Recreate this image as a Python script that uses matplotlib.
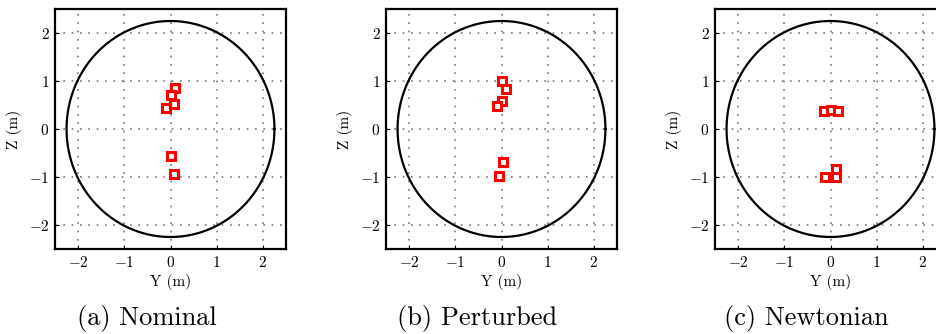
#!/usr/bin/env python3
# formation_positions.py
import numpy as np
import matplotlib
matplotlib.use("Agg")
import matplotlib.pyplot as plt

plt.rcParams["font.family"] = ["cmr10", "DejaVu Serif"]
plt.rcParams["mathtext.fontset"] = "cm"
plt.rcParams["axes.formatter.use_mathtext"] = True

# ----------------------------- Data -----------------------------
captions = ["(a) Nominal", "(b) Perturbed", "(c) Newtonian"]
radius = 2.25

nominal_y = [0.09, 0.02, 0.07, -0.09, 0.01, 0.07]
nominal_z = [0.86, 0.71, 0.52, 0.44, -0.57, -0.93]

perturbed_y = [0.00, 0.10, 0.01, -0.10, 0.03, -0.06]
perturbed_z = [0.99, 0.84, 0.59, 0.48, -0.68, -0.98]

newton_y = [-0.15, 0.00, 0.16, -0.11, 0.12, 0.12]
newton_z = [0.37, 0.39, 0.37, -0.99, -0.84, -0.99]

ticks = [-2, -1, 0, 1, 2]

# ----------------------------- Plotting -----------------------------
fig = plt.figure(figsize=(9.36, 3.34), dpi=100)
lefts = [55 / 936, 386 / 936, 715 / 936]
w, h = 231 / 936, 240 / 334
bottom = 85 / 334

series = [(nominal_y, nominal_z), (perturbed_y, perturbed_z), (newton_y, newton_z)]
theta = np.linspace(0, 2 * np.pi, 400)

for left, (ys, zs), cap in zip(lefts, series, captions):
    ax = fig.add_axes([left, bottom, w, h])
    ax.plot(radius * np.cos(theta), radius * np.sin(theta), color="black", lw=1.6)
    ax.plot(ys, zs, ls="none", marker="s", ms=5.3, mfc="white", mec="red", mew=2.2)
    ax.set_xlim(-2.5, 2.5)
    ax.set_ylim(-2.5, 2.5)
    ax.set_xticks(ticks)
    ax.set_yticks(ticks)
    ax.grid(True, ls=(0, (1, 4)), color="#777777", lw=1.2)
    ax.tick_params(direction="in", labelsize=11, length=3, pad=4)
    for s in ax.spines.values():
        s.set_linewidth(1.6)
    ax.set_xlabel("Y (m)", fontsize=11, labelpad=3)
    ax.set_ylabel("Z (m)", fontsize=11, labelpad=5)
    # caption sits under the whole subfigure (axes + ylabel), so shift left
    ax.text(0.5 - 24 / 231, -0.29, cap, transform=ax.transAxes, ha="center",
            va="center", fontsize=19)

fig.savefig("out.png", dpi=100)
